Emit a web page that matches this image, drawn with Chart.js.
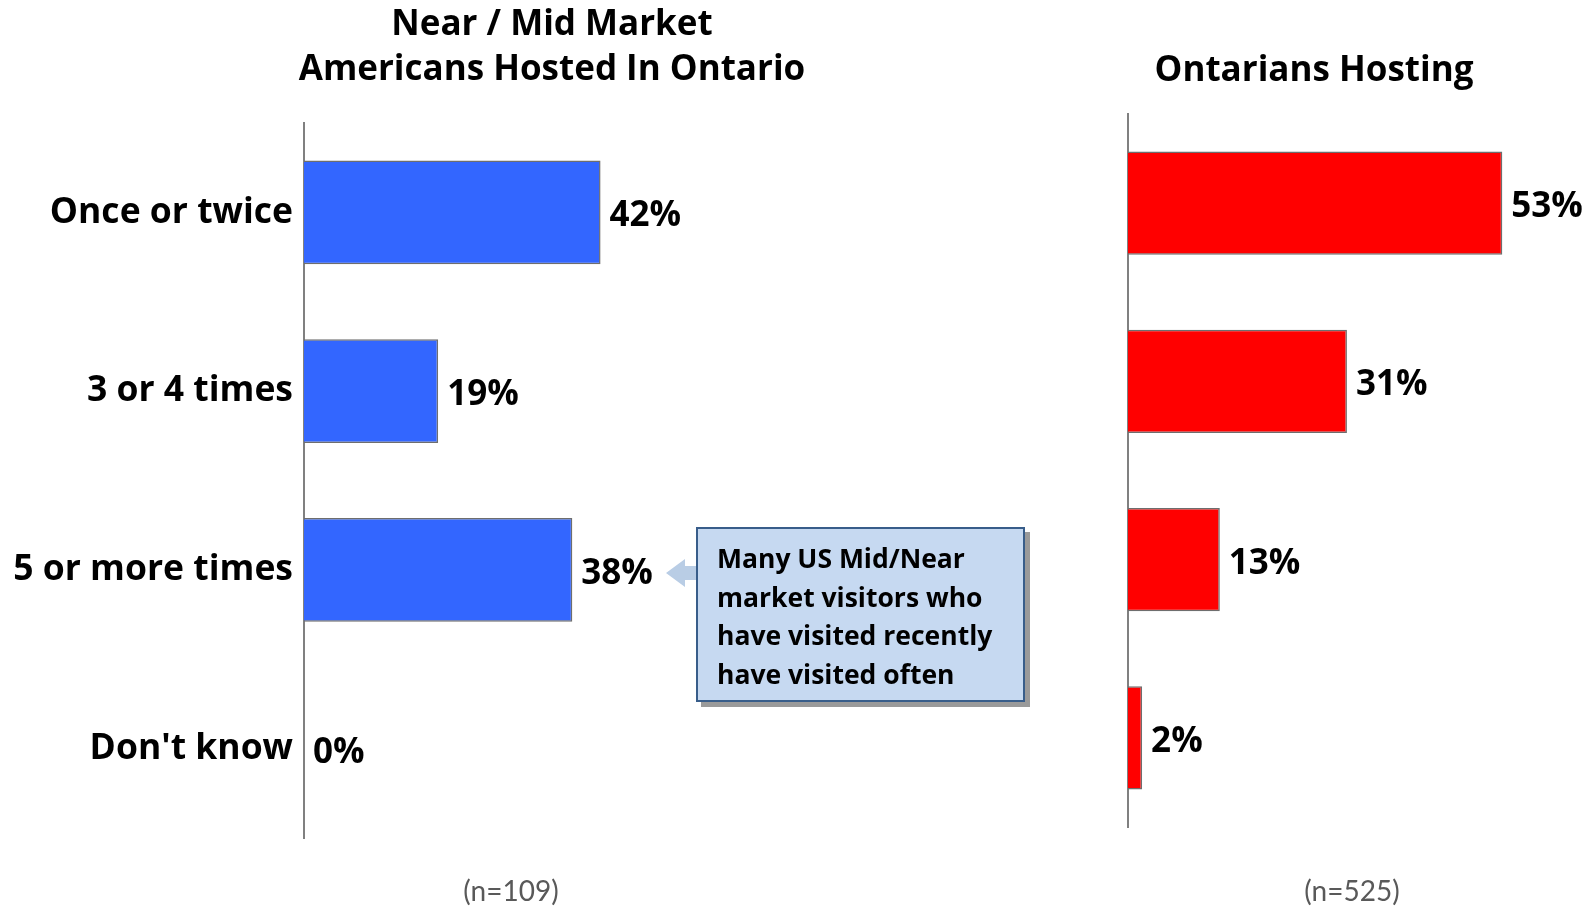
<!DOCTYPE html>
<html>
<head>
<meta charset="utf-8">
<script src="https://cdn.jsdelivr.net/npm/chart.js@4"></script>
<style>
  body { margin: 0; background: #fff; width: 1592px; height: 908px; overflow: hidden; position: relative; font-family: "Open Sans", sans-serif; }
  canvas { position: absolute; top: 0; }
  #leftChart { left: 0; }
  #rightChart { left: 1036px; }
  #callout {
    position: absolute; left: 696px; top: 527px; width: 325px; height: 171px;
    background: #c6d9f1; border: 2px solid #385d8a;
    box-shadow: 5px 5px 0 #9a9a9a;
    font-weight: bold; font-size: 26.5px; line-height: 38.5px; color: #000;
    white-space: nowrap;
  }
  #callout div { padding: 10px 0 0 19px; }
  #arrow {
    position: absolute; left: 666px; top: 559px; width: 31px; height: 28px;
    background: #b9cde5;
    clip-path: polygon(0 50%, 19px 0, 19px 7px, 31px 7px, 31px 21px, 19px 21px, 19px 28px);
  }
</style>
</head>
<body>
<canvas id="leftChart" width="1104" height="908"></canvas>
<canvas id="rightChart" width="556" height="908"></canvas>
<div id="arrow"></div>
<div id="callout"><div id="calloutText"></div></div>
<script>
console.log("hosting chart running");

let categories = ["Once or twice", "3 or 4 times", "5 or more times", "Don't know"];
let americansHosted = [42, 19, 38, 0];
let ontariansHosting = [53, 31, 13, 2];
let leftTitle = ["Near / Mid Market", "Americans Hosted In Ontario"];
let rightTitle = "Ontarians Hosting";
let sampleSizes = ["(n=109)", "(n=525)"];
let calloutLines = ["Many US Mid/Near", "market visitors who", "have visited recently", "have visited often"];

document.getElementById("calloutText").innerHTML = calloutLines.join("<br>");

let FONT = "Open Sans";

// value labels to the right of each bar
let valueLabels = {
    id: "valueLabels",
    afterDatasetsDraw(chart) {
        let ctx = chart.ctx;
        let meta = chart.getDatasetMeta(0);
        ctx.save();
        ctx.font = "bold 35px " + FONT;
        ctx.fillStyle = "#000";
        ctx.textAlign = "left";
        ctx.textBaseline = "middle";
        meta.data.forEach((bar, i) => {
            let v = chart.data.datasets[0].data[i];
            ctx.fillText(v + "%", bar.x + 9, bar.y + 4);
        });
        ctx.restore();
    }
};

// (n=...) note under each chart
let sampleNote = {
    id: "sampleNote",
    afterDraw(chart, args, opts) {
        let ctx = chart.ctx;
        ctx.save();
        ctx.font = "28px Lato";
        ctx.fillStyle = "#595959";
        ctx.textAlign = "center";
        ctx.textBaseline = "middle";
        ctx.fillText(opts.text, opts.x, opts.y);
        ctx.restore();
    }
};

function makeChart(id, values, color, cfg) {
    return new Chart(document.getElementById(id), {
        type: "bar",
        data: {
            labels: categories,
            datasets: [{
                data: values,
                backgroundColor: color,
                borderColor: "#6e6e6e",
                borderWidth: 1.5,
                barPercentage: cfg.barPct,
                categoryPercentage: 1
            }]
        },
        options: {
            indexAxis: "y",
            responsive: false,
            animation: false,
            layout: { padding: { left: 0, right: 0, top: 0, bottom: cfg.bottomPad } },
            scales: {
                x: { display: false, min: 0, max: cfg.max },
                y: {
                    grid: { display: false },
                    border: { display: true, color: "#808080", width: 2 },
                    ticks: {
                        display: cfg.showLabels,
                        color: "#000",
                        padding: 3,
                        font: { family: FONT, size: 35.5, weight: "bold" }
                    },
                    afterFit(scale) { scale.width = cfg.axisWidth; }
                }
            },
            plugins: {
                legend: { display: false },
                tooltip: { enabled: false },
                title: {
                    display: true,
                    text: cfg.title,
                    color: "#000",
                    font: { family: FONT, size: 35, weight: "bold", lineHeight: 1.286 },
                    padding: cfg.titlePad
                },
                sampleNote: cfg.note
            }
        },
        plugins: [valueLabels, sampleNote]
    });
}

makeChart("leftChart", americansHosted, "#3366ff", {
    barPct: 0.58, max: 113.3, bottomPad: 70, axisWidth: 304,
    showLabels: true, title: leftTitle, titlePad: { top: 3, bottom: 30 },
    note: { text: sampleSizes[0], x: 511, y: 892 }
});

makeChart("rightChart", ontariansHosting, "#ff0000", {
    barPct: 0.578, max: 65.7, bottomPad: 81, axisWidth: 92,
    showLabels: false, title: rightTitle, titlePad: { top: 48.5, bottom: 20.5 },
    note: { text: sampleSizes[1], x: 316, y: 892 }
});
</script>
</body>
</html>
